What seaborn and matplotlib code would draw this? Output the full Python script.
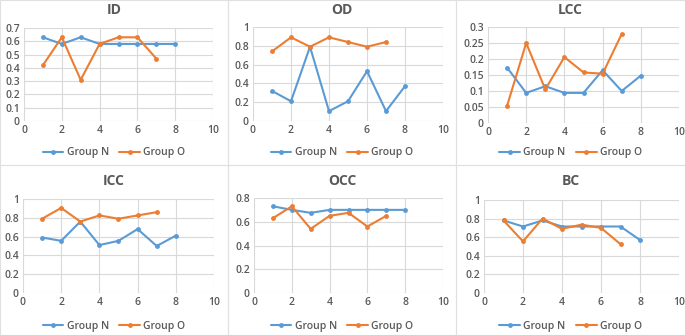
import numpy as np
import pandas as pd
import matplotlib
matplotlib.use("Agg")
import matplotlib.pyplot as plt
import seaborn as sns
from matplotlib.patches import Rectangle
from matplotlib.lines import Line2D

x_n = [1, 2, 3, 4, 5, 6, 7, 8]
x_o = [1, 2, 3, 4, 5, 6, 7]

id_n = [0.63, 0.58, 0.63, 0.58, 0.58, 0.58, 0.58, 0.58]
id_o = [0.42, 0.63, 0.31, 0.58, 0.63, 0.63, 0.47]
od_n = [0.32, 0.21, 0.79, 0.105, 0.21, 0.53, 0.105, 0.37]
od_o = [0.74, 0.89, 0.79, 0.89, 0.84, 0.79, 0.84]
lcc_n = [0.173, 0.094, 0.115, 0.094, 0.094, 0.165, 0.100, 0.148]
lcc_o = [0.054, 0.250, 0.105, 0.206, 0.158, 0.154, 0.278]
icc_n = [0.59, 0.555, 0.76, 0.51, 0.555, 0.68, 0.50, 0.61]
icc_o = [0.79, 0.905, 0.76, 0.825, 0.79, 0.825, 0.86]
occ_n = [0.73, 0.70, 0.675, 0.70, 0.70, 0.70, 0.70, 0.70]
occ_o = [0.63, 0.73, 0.54, 0.65, 0.675, 0.56, 0.65]
bc_n = [0.78, 0.715, 0.78, 0.715, 0.715, 0.715, 0.715, 0.57]
bc_o = [0.78, 0.555, 0.80, 0.69, 0.735, 0.70, 0.525]

titles = ["ID", "OD", "LCC", "ICC", "OCC", "BC"]
series = [(id_n, id_o), (od_n, od_o), (lcc_n, lcc_o),
          (icc_n, icc_o), (occ_n, occ_o), (bc_n, bc_o)]
yticks = [
    [0, 0.1, 0.2, 0.3, 0.4, 0.5, 0.6, 0.7],
    [0, 0.2, 0.4, 0.6, 0.8, 1],
    [0, 0.05, 0.1, 0.15, 0.2, 0.25, 0.3],
    [0, 0.2, 0.4, 0.6, 0.8, 1],
    [0, 0.2, 0.4, 0.6, 0.8],
    [0, 0.2, 0.4, 0.6, 0.8, 1],
]
ytick_labels = [
    ["0", "0.1", "0.2", "0.3", "0.4", "0.5", "0.6", "0.7"],
    ["0", "0.2", "0.4", "0.6", "0.8", "1"],
    ["0", "0.05", "0.1", "0.15", "0.2", "0.25", "0.3"],
    ["0", "0.2", "0.4", "0.6", "0.8", "1"],
    ["0", "0.2", "0.4", "0.6", "0.8"],
    ["0", "0.2", "0.4", "0.6", "0.8", "1"],
]
xticks = [0, 2, 4, 6, 8, 10]
groups = ["Group N", "Group O"]

sns.set_theme(style="white")
plt.rcParams["font.family"] = ["Open Sans", "DejaVu Sans"]

W, H = 685, 335
fig = plt.figure(figsize=(W / 100, H / 100), dpi=100)

BLUE = "#5B9BD5"
ORANGE = "#ED7D31"
GRID = "#D9D9D9"
TXT = "#595959"
palette = {"Group N": BLUE, "Group O": ORANGE}

# pixel boxes: (x0, x1, ytop, ybottom)
plot_boxes = [
    (24, 213, 28, 121),
    (253, 443, 27, 121),
    (488, 679, 27, 123),
    (23, 214, 199, 293),
    (254, 443, 198, 293),
    (484, 679, 200, 293),
]
panel_boxes = [
    (0, 228, 0, 165), (228, 456, 0, 165), (456, 685, 0, 165),
    (0, 228, 165, 335), (228, 456, 165, 335), (456, 685, 165, 335),
]
title_y = [10, 10, 10, 181, 181, 181]
legend_y = [153, 153, 153, 326, 326, 326]

for i in range(6):
    px0, px1, pt, pb = panel_boxes[i]
    fig.patches.append(Rectangle((px0 / W, 1 - pb / H), (px1 - px0) / W, (pb - pt) / H,
                                 transform=fig.transFigure, fill=False,
                                 edgecolor="#E0E0E0", linewidth=0.8))
    x0, x1, yt, yb = plot_boxes[i]
    ax = fig.add_axes([x0 / W, 1 - yb / H, (x1 - x0) / W, (yb - yt) / H])
    n, o = series[i]
    df = pd.DataFrame({
        "x": x_n + x_o,
        "y": n + o,
        "Group": [groups[0]] * len(n) + [groups[1]] * len(o),
    })
    sns.lineplot(data=df, x="x", y="y", hue="Group", palette=palette, ax=ax,
                 marker="o", markersize=3.5, markeredgewidth=0, linewidth=1.5,
                 legend=False, zorder=3)
    ax.set_xlim(0, 10)
    ax.set_ylim(0, yticks[i][-1])
    ax.set_xticks(xticks)
    ax.set_xticklabels([str(t) for t in xticks])
    ax.set_yticks(yticks[i])
    ax.set_yticklabels(ytick_labels[i])
    ax.grid(True, color=GRID, linewidth=0.8)
    for s in ax.spines.values():
        s.set_visible(False)
    ax.tick_params(axis="both", length=0, labelsize=7.5, labelcolor=TXT, pad=3)
    for lab in ax.get_xticklabels() + ax.get_yticklabels():
        lab.set_fontweight("semibold")
    ax.set_xlabel("")
    ax.set_ylabel("")
    cx = (px0 + px1) / 2 / W
    fig.text(cx, 1 - title_y[i] / H, titles[i], ha="center", va="center",
             fontsize=10, fontweight="bold", color=TXT)
    handles = [Line2D([0], [0], color=BLUE, marker="o", markersize=3.5, linewidth=1.5, markeredgewidth=0),
               Line2D([0], [0], color=ORANGE, marker="o", markersize=3.5, linewidth=1.5, markeredgewidth=0)]
    leg = fig.legend(handles, groups, loc="center", bbox_to_anchor=(cx, 1 - legend_y[i] / H),
                     ncol=2, frameon=False, fontsize=7.5, handlelength=2.0, columnspacing=1.0,
                     handletextpad=0.3, labelcolor=TXT)
    for t in leg.get_texts():
        t.set_fontweight("semibold")

fig.savefig("out.png", dpi=100, facecolor="white")
